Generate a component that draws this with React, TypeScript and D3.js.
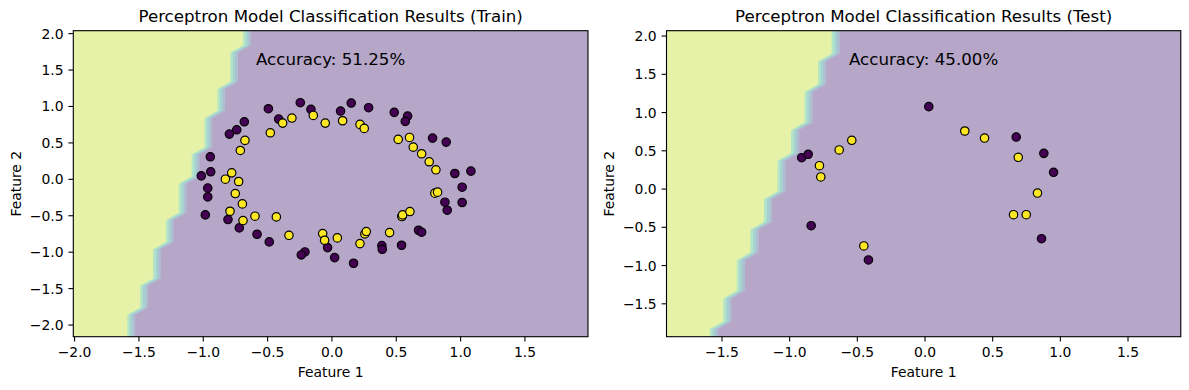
import React from 'react';
import * as d3 from 'd3';

const WIDTH = 1189;
const HEIGHT = 390;

// ---- Data: training set (class 0 = purple, class 1 = yellow) ----
const TRAIN_CLASS0: [number, number][] = [
  [-0.494, 0.969], [-0.246, 1.052], [-0.163, 0.96], [-0.414, 0.827], [-0.681, 0.79],
  [-0.74, 0.68], [-0.797, 0.621], [0.067, 0.937], [0.15, 1.047], [0.285, 0.983],
  [0.484, 0.919], [0.588, 0.868], [0.57, 0.795], [0.782, 0.566], [0.888, 0.511],
  [-0.945, 0.309], [-1.015, 0.048], [-0.942, 0.103], [-0.965, -0.121], [-0.965, -0.241],
  [-0.984, -0.488], [-0.808, -0.552], [-0.72, -0.667], [-0.582, -0.754], [-0.487, -0.859],
  [-0.21, -0.997], [-0.238, -1.038], [-0.034, -0.937], [0.021, -1.074], [0.168, -1.152],
  [0.388, -0.91], [0.391, -0.96], [0.541, -0.905], [0.673, -0.699], [0.697, -0.726],
  [0.955, 0.08], [1.08, 0.112], [1.012, -0.108], [0.878, -0.314], [0.896, -0.424],
  [1.012, -0.318],
];

const TRAIN_CLASS1: [number, number][] = [
  [-0.383, 0.772], [-0.311, 0.841], [-0.145, 0.877], [-0.479, 0.639], [-0.676, 0.534],
  [-0.712, 0.396], [-0.052, 0.772], [0.083, 0.804], [0.218, 0.754], [0.251, 0.699],
  [0.515, 0.548], [0.603, 0.575], [0.632, 0.442], [0.697, 0.351], [0.756, 0.241],
  [0.808, 0.131], [-0.828, 0.002], [-0.779, 0.089], [-0.725, -0.03], [-0.751, -0.195],
  [-0.696, -0.337], [-0.792, -0.438], [-0.691, -0.566], [-0.598, -0.506], [-0.432, -0.516],
  [-0.334, -0.768], [-0.072, -0.745], [-0.057, -0.836], [0.042, -0.804], [0.218, -0.882],
  [0.256, -0.749], [0.267, -0.717], [0.448, -0.731], [0.545, -0.505], [0.544, -0.511],
  [0.549, -0.488], [0.606, -0.442], [0.8, -0.19], [0.821, -0.176],
];

// ---- Data: test set ----
const TEST_CLASS0: [number, number][] = [
  [0.028, 1.077], [0.674, 0.68], [0.878, 0.467], [0.95, 0.219], [-0.911, 0.41],
  [-0.863, 0.454], [-0.841, -0.479], [-0.418, -0.927], [0.861, -0.649],
];

const TEST_CLASS1: [number, number][] = [
  [0.294, 0.759], [0.44, 0.667], [0.689, 0.415], [-0.78, 0.305], [-0.77, 0.158],
  [-0.634, 0.511], [-0.541, 0.637], [0.831, -0.052], [0.654, -0.335], [0.748, -0.335],
  [-0.452, -0.744],
];

// ---- Model (linear perceptron decision function) ----
const PERCEPTRON_W = [-4.45, 1.0];
const PERCEPTRON_B = -4.9;

// ---- Mesh grid used for the decision regions ----
const GRID_STEP = 0.1;
const TRAIN_GRID = { x0: -2.01, nx: 41, y0: -2.16, ny: 43 };
const TEST_GRID = { x0: -1.91, nx: 39, y0: -1.93, ny: 41 };
const CONTOUR_LEVELS = [0, 0.2, 0.4, 0.6, 0.8, 1.0];
const FILL_ALPHA = 0.4;

// ---- Ticks and text ----
const TRAIN_X_TICKS = [-2, -1.5, -1, -0.5, 0, 0.5, 1, 1.5];
const TRAIN_Y_TICKS = [-2, -1.5, -1, -0.5, 0, 0.5, 1, 1.5, 2];
const TEST_X_TICKS = [-1.5, -1, -0.5, 0, 0.5, 1, 1.5];
const TEST_Y_TICKS = [-1.5, -1, -0.5, 0, 0.5, 1, 1.5, 2];
const TITLES = [
  'Perceptron Model Classification Results (Train)',
  'Perceptron Model Classification Results (Test)',
];
const ACCURACY_TEXT = ['Accuracy: 51.25%', 'Accuracy: 45.00%'];
const X_LABEL = 'Feature 1';
const Y_LABEL = 'Feature 2';

const FONT = '"DejaVu Sans", Verdana, sans-serif';
const CLASS_COLORS = ['#440154', '#fde725'];

function blendWhite(c: string, a: number) {
  const rgb = d3.rgb(c);
  return d3.rgb(255 + a * (rgb.r - 255), 255 + a * (rgb.g - 255), 255 + a * (rgb.b - 255)).formatHex();
}

type PanelProps = {
  id: string;
  left: number;
  right: number;
  top: number;
  bottom: number;
  grid: { x0: number; nx: number; y0: number; ny: number };
  class0: [number, number][];
  class1: [number, number][];
  xTicks: number[];
  yTicks: number[];
  title: string;
  accuracy: string;
};

function Panel(p: PanelProps) {
  const { grid } = p;
  const xDomain = [grid.x0, grid.x0 + (grid.nx - 1) * GRID_STEP];
  const yDomain = [grid.y0, grid.y0 + (grid.ny - 1) * GRID_STEP];
  const x = d3.scaleLinear().domain(xDomain).range([p.left, p.right]);
  const y = d3.scaleLinear().domain(yDomain).range([p.bottom, p.top]);

  const values: number[] = new Array(grid.nx * grid.ny);
  for (let j = 0; j < grid.ny; j++) {
    for (let i = 0; i < grid.nx; i++) {
      const gx = grid.x0 + i * GRID_STEP;
      const gy = grid.y0 + j * GRID_STEP;
      const s = PERCEPTRON_W[0] * gx + PERCEPTRON_W[1] * gy + PERCEPTRON_B;
      values[j * grid.nx + i] = s > 0 ? 1 : 0;
    }
  }
  const thresholds = CONTOUR_LEVELS.slice(0, -1);
  const contours = d3.contours().size([grid.nx, grid.ny]).thresholds(thresholds)(values);
  const proj = d3.geoTransform({
    point(cx: number, cy: number) {
      // @ts-ignore
      this.stream.point(x(grid.x0 + (cx - 0.5) * GRID_STEP), y(grid.y0 + (cy - 0.5) * GRID_STEP));
    },
  });
  const path = d3.geoPath(proj as any);
  const lvMin = CONTOUR_LEVELS[0];
  const lvMax = CONTOUR_LEVELS[CONTOUR_LEVELS.length - 1];
  const layerColors = thresholds.map((lv, k) => {
    const mid = (CONTOUR_LEVELS[k] + CONTOUR_LEVELS[k + 1]) / 2;
    return blendWhite(d3.interpolateViridis((mid - lvMin) / (lvMax - lvMin)), FILL_ALPHA);
  });

  const cx = (p.left + p.right) / 2;
  const cy = (p.top + p.bottom) / 2;
  const tickLen = 4.9;
  const tickPad = 4.9;
  const fs = 13.9;

  return (
    <g>
      <defs>
        <clipPath id={p.id}>
          <rect x={p.left} y={p.top} width={p.right - p.left} height={p.bottom - p.top} />
        </clipPath>
      </defs>
      <g clipPath={`url(#${p.id})`}>
        {contours.map((c, k) => (
          <path key={k} d={path(c as any) || ''} fill={layerColors[k]} stroke="none" />
        ))}
      </g>
      {p.class0.map((d, i) => (
        <circle key={'a' + i} cx={x(d[0])} cy={y(d[1])} r={4.2} fill={CLASS_COLORS[0]} stroke="#000" strokeWidth={1.2} />
      ))}
      {p.class1.map((d, i) => (
        <circle key={'b' + i} cx={x(d[0])} cy={y(d[1])} r={4.2} fill={CLASS_COLORS[1]} stroke="#000" strokeWidth={1.2} />
      ))}
      <rect x={p.left} y={p.top} width={p.right - p.left} height={p.bottom - p.top} fill="none" stroke="#000" strokeWidth={1.1} />
      {p.xTicks.map((t) => (
        <g key={'xt' + t}>
          <line x1={x(t)} x2={x(t)} y1={p.bottom} y2={p.bottom + tickLen} stroke="#000" strokeWidth={1.1} />
          <text x={x(t)} y={p.bottom + tickLen + tickPad + 10.6} textAnchor="middle" fontSize={fs} fontFamily={FONT} fill="#000">
            {d3.format('.1f')(t)}
          </text>
        </g>
      ))}
      {p.yTicks.map((t) => (
        <g key={'yt' + t}>
          <line x1={p.left} x2={p.left - tickLen} y1={y(t)} y2={y(t)} stroke="#000" strokeWidth={1.1} />
          <text x={p.left - tickLen - tickPad} y={y(t) + 5} textAnchor="end" fontSize={fs} fontFamily={FONT} fill="#000">
            {d3.format('.1f')(t)}
          </text>
        </g>
      ))}
      <text x={cx} y={22.4} textAnchor="middle" fontSize={16.67} fontFamily={FONT} fill="#000">
        {p.title}
      </text>
      <text x={cx} y={p.top + 34.3} textAnchor="middle" fontSize={16.67} fontFamily={FONT} fill="#000">
        {p.accuracy}
      </text>
      <text x={cx} y={377} textAnchor="middle" fontSize={fs} fontFamily={FONT} fill="#000">
        {X_LABEL}
      </text>
      <text
        transform={`translate(${p.left - 52.8},${cy}) rotate(-90)`}
        textAnchor="middle"
        fontSize={fs}
        fontFamily={FONT}
        fill="#000"
      >
        {Y_LABEL}
      </text>
    </g>
  );
}

export default function App() {
  return (
    <svg
      width={WIDTH}
      height={HEIGHT}
      viewBox={`0 0 ${WIDTH} ${HEIGHT}`}
      style={{ position: 'absolute', left: 0, top: 0, background: '#fff' }}
    >
      <rect x={0} y={0} width={WIDTH} height={HEIGHT} fill="#fff" />
      <Panel
        id="clipTrain"
        left={73.3}
        right={588}
        top={30.7}
        bottom={336.7}
        grid={TRAIN_GRID}
        class0={TRAIN_CLASS0}
        class1={TRAIN_CLASS1}
        xTicks={TRAIN_X_TICKS}
        yTicks={TRAIN_Y_TICKS}
        title={TITLES[0]}
        accuracy={ACCURACY_TEXT[0]}
      />
      <Panel
        id="clipTest"
        left={666.5}
        right={1180.8}
        top={30.7}
        bottom={336.7}
        grid={TEST_GRID}
        class0={TEST_CLASS0}
        class1={TEST_CLASS1}
        xTicks={TEST_X_TICKS}
        yTicks={TEST_Y_TICKS}
        title={TITLES[1]}
        accuracy={ACCURACY_TEXT[1]}
      />
    </svg>
  );
}
